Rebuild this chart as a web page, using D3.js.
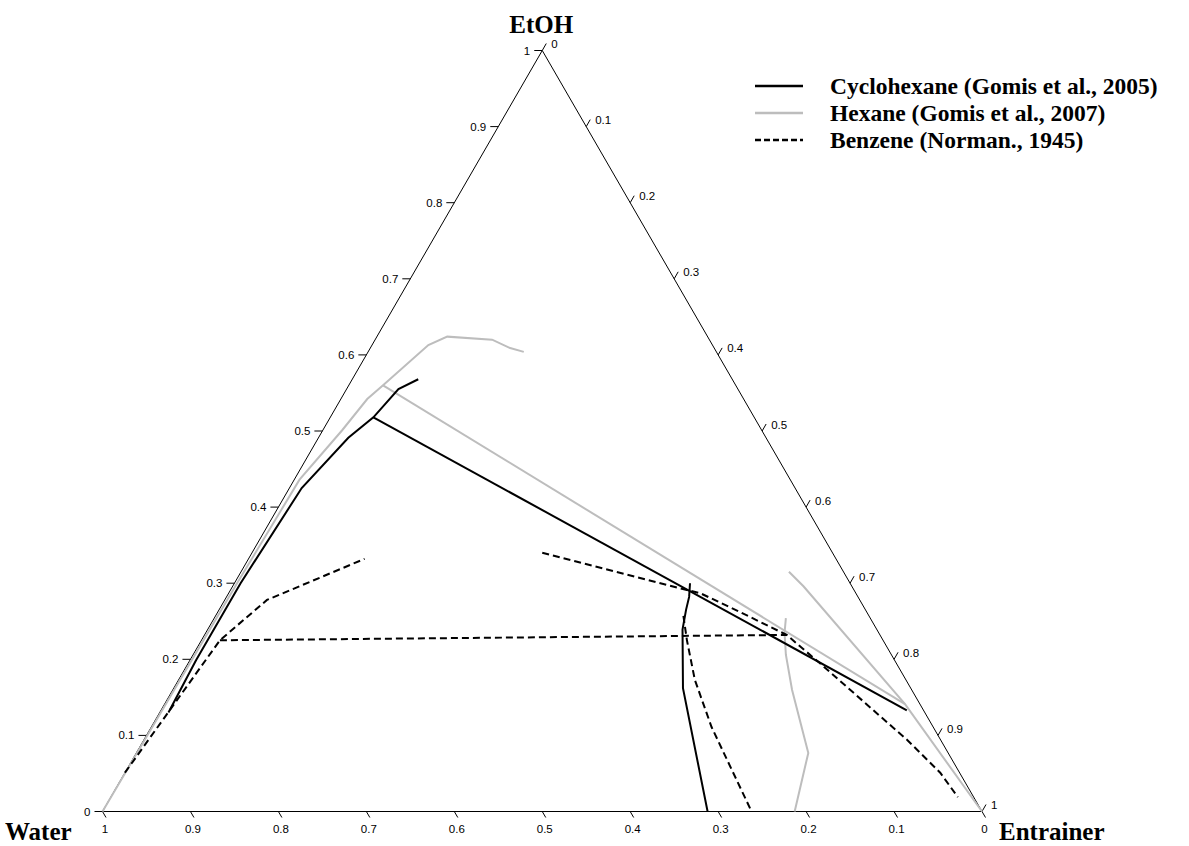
<!DOCTYPE html>
<html>
<head>
<meta charset="utf-8">
<script src="https://cdn.jsdelivr.net/npm/d3@7"></script>
<style>
  body { margin: 0; background: #fff; }
  svg { display: block; }
</style>
</head>
<body>
<svg class="ternary"></svg>
<script>
// points are [water, etoh]; entrainer = 1 - water - etoh
const tickValues = [0, 0.1, 0.2, 0.3, 0.4, 0.5, 0.6, 0.7, 0.8, 0.9, 1];
const tickLabels = ["0", "0.1", "0.2", "0.3", "0.4", "0.5", "0.6", "0.7", "0.8", "0.9", "1"];

const cyclohexaneLeft = [[0.86, 0.13], [0.794, 0.199], [0.693, 0.300], [0.561, 0.425], [0.475, 0.491], [0.433, 0.518], [0.386, 0.555], [0.357, 0.568]];
const cyclohexaneTie = [[0.433, 0.518], [0.019, 0.133]];
const cyclohexaneRight = [[0.182, 0.300], [0.192, 0.282], [0.204, 0.265], [0.221, 0.239], [0.259, 0.162], [0.312, 0.0]];

const hexaneLeft = [[1.0, 0.0], [0.697, 0.300], [0.558, 0.436], [0.477, 0.501], [0.428, 0.542], [0.401, 0.560], [0.323, 0.613], [0.296, 0.624], [0.247, 0.620], [0.232, 0.609], [0.219, 0.604]];
const hexaneTie = [[0.401, 0.560], [0.017, 0.141]];
const hexaneRight = [[0.062, 0.315], [0.055, 0.296], [0.017, 0.141], [0.0, 0.0]];
const hexaneMid = [[0.096, 0.254], [0.107, 0.235], [0.120, 0.206], [0.136, 0.160], [0.159, 0.077], [0.213, 0.0]];

const benzeneLeft = [[0.949, 0.051], [0.754, 0.225], [0.674, 0.278], [0.536, 0.332]];
const benzeneTie = [[0.754, 0.225], [0.106, 0.232]];
const benzeneRight = [[0.330, 0.340], [0.190, 0.291], [0.177, 0.287], [0.144, 0.262], [0.106, 0.232], [0.087, 0.195], [0.038, 0.094], [0.022, 0.051], [0.018, 0.019]];
const benzeneMid = [[0.211, 0.257], [0.223, 0.225], [0.240, 0.173], [0.252, 0.111], [0.262, 0.0]];

const legendNames = ["Cyclohexane (Gomis et al., 2005)", "Hexane (Gomis et al., 2007)", "Benzene (Norman., 1945)"];

const width = 1189, height = 846;
const svg = d3.select(".ternary").attr("width", width).attr("height", height);

// x runs along the base (water=1 at left, entrainer=1 at right), y is the etoh height
const x = d3.scaleLinear().domain([0, 1]).range([102.5, 982]);
const y = d3.scaleLinear().domain([0, 1]).range([811.5, 50.5]);
const px = d => x((1 - d[0] - d[1]) + d[1] / 2);
const py = d => y(d[1]);
const line = d3.line().x(px).y(py);

// triangle
svg.append("path")
  .attr("d", line([[1, 0], [0, 1], [0, 0], [1, 0]]))
  .attr("fill", "none")
  .style("stroke", "#000")
  .style("stroke-width", 1);

const tickFont = "'Liberation Sans', Arial, sans-serif";

// left axis: etoh
const left = svg.append("g");
left.selectAll("line").data(tickValues).enter().append("line")
  .attr("x1", k => px([1 - k, k]) - 8).attr("x2", k => px([1 - k, k]))
  .attr("y1", k => py([1 - k, k])).attr("y2", k => py([1 - k, k]))
  .style("stroke", "#000").style("stroke-width", 1);
left.selectAll("text").data(tickValues).enter().append("text")
  .attr("x", k => px([1 - k, k]) - 12)
  .attr("y", k => py([1 - k, k]) + 4)
  .attr("text-anchor", "end")
  .style("font", `11.5px ${tickFont}`)
  .text((k, i) => tickLabels[i]);

// right axis: entrainer
const right = svg.append("g");
right.selectAll("line").data(tickValues).enter().append("line")
  .attr("x1", k => px([0, 1 - k])).attr("x2", k => px([0, 1 - k]) + 4)
  .attr("y1", k => py([0, 1 - k])).attr("y2", k => py([0, 1 - k]) - 7)
  .style("stroke", "#000").style("stroke-width", 1);
right.selectAll("text").data(tickValues).enter().append("text")
  .attr("x", k => px([0, 1 - k]) + 9)
  .attr("y", k => py([0, 1 - k]) - 2.5)
  .attr("text-anchor", "start")
  .style("font", `11.5px ${tickFont}`)
  .text((k, i) => tickLabels[i]);

// bottom axis: water
const bottom = svg.append("g");
bottom.selectAll("line").data(tickValues).enter().append("line")
  .attr("x1", k => px([k, 0])).attr("x2", k => px([k, 0]) + 3.5)
  .attr("y1", k => py([k, 0])).attr("y2", k => py([k, 0]) + 6)
  .style("stroke", "#000").style("stroke-width", 1);
bottom.selectAll("text").data(tickValues).enter().append("text")
  .attr("x", k => px([k, 0]) + 2.5)
  .attr("y", k => py([k, 0]) + 21)
  .attr("text-anchor", "middle")
  .style("font", `11.5px ${tickFont}`)
  .text((k, i) => tickLabels[i]);

// vertex names
const titleFont = "bold 25px 'Liberation Serif', 'Times New Roman', serif";
svg.append("text").attr("x", px([0, 1]) - 1).attr("y", 33).attr("text-anchor", "middle").style("font", titleFont).text("EtOH");
svg.append("text").attr("x", 5).attr("y", 840).style("font", titleFont).text("Water");
svg.append("text").attr("x", 999).attr("y", 840).style("font", titleFont).text("Entrainer");

// curves
const series = [
  { data: [cyclohexaneLeft, cyclohexaneTie, cyclohexaneRight], color: "#000", dash: null },
  { data: [hexaneLeft, hexaneTie, hexaneRight, hexaneMid], color: "#bdbdbd", dash: null },
  { data: [benzeneLeft, benzeneTie, benzeneRight, benzeneMid], color: "#000", dash: "7,4" }
];
// draw gray first so black sits on top
[series[1], series[0], series[2]].forEach(s => {
  svg.append("g").selectAll("path").data(s.data).enter().append("path")
    .attr("d", line)
    .attr("fill", "none")
    .style("stroke", s.color)
    .style("stroke-width", 2)
    .style("stroke-dasharray", s.dash);
});

// legend
const legend = svg.append("g").selectAll("g").data(series).enter().append("g")
  .attr("transform", (d, i) => `translate(0, ${[86, 113, 140][i]})`);
legend.append("line")
  .attr("x1", 755).attr("x2", 803).attr("y1", 0).attr("y2", 0)
  .style("stroke", d => d.color)
  .style("stroke-width", 2.5)
  .style("stroke-dasharray", d => d.dash ? "6,3" : null);
legend.append("text")
  .attr("x", 830).attr("y", 8)
  .style("font", titleFont)
  .style("font-size", "23.5px")
  .text((d, i) => legendNames[i]);
</script>
</body>
</html>
